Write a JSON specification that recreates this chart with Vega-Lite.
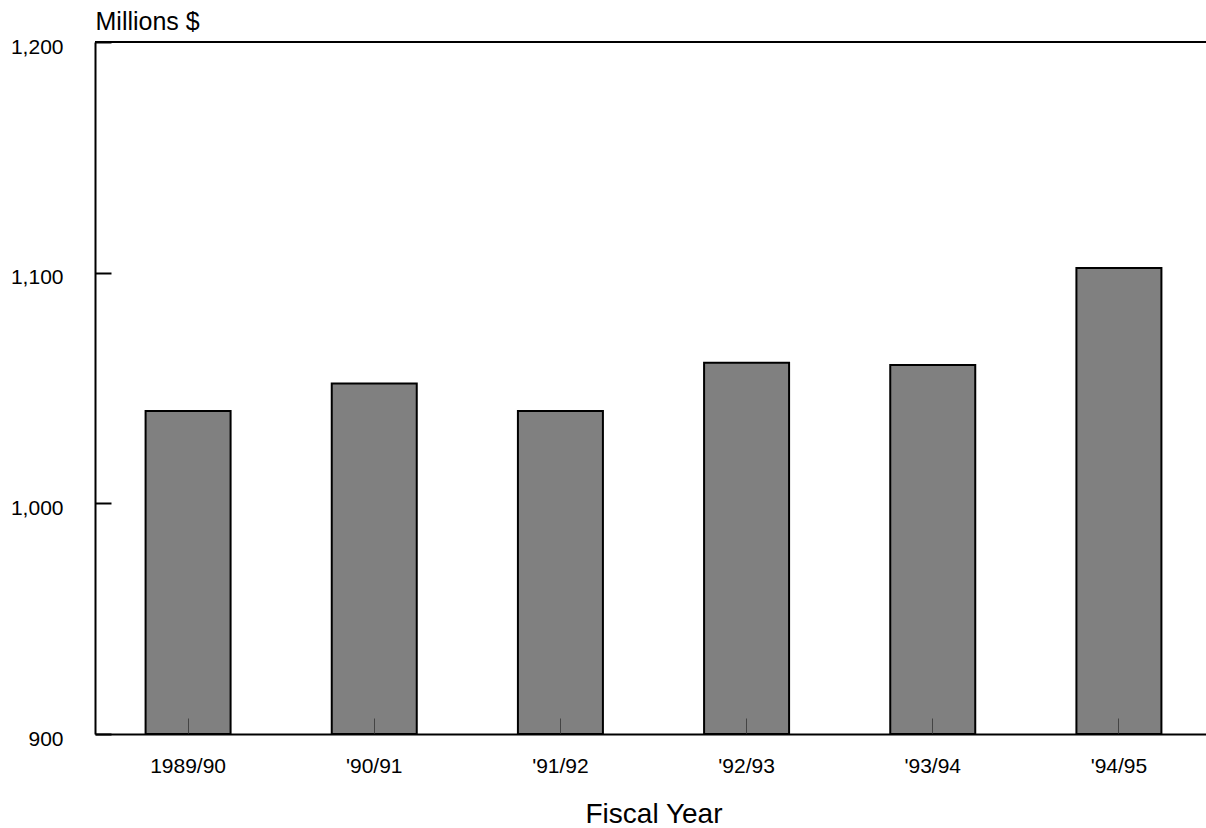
{
  "$schema": "https://vega.github.io/schema/vega-lite/v6.json",
  "width": 1111,
  "height": 692,
  "autosize": {"type": "none"},
  "padding": {"left": 95, "top": 42, "right": 0, "bottom": 94},
  "background": "white",
  "config": {
    "view": {"stroke": null},
    "font": "Liberation Sans",
    "axis": {"labelFont": "Liberation Sans", "titleFont": "Liberation Sans", "labelColor": "black", "titleColor": "black", "titleFontWeight": "normal", "labelFontSize": 21, "domainColor": "black", "domainWidth": 2, "grid": false},
    "axisX": {"titleFontSize": 28, "titlePadding": 24, "labelPadding": 37, "labelAngle": 0, "labelBaseline": "top", "tickSize": -16, "tickColor": "#444444", "tickWidth": 1},
    "axisY": {"titleFontSize": 25, "labelPadding": 48, "labelOffset": 5, "labelBaseline": "middle", "tickSize": -16, "tickColor": "black", "tickWidth": 2}
  },
  "data": {
    "values": [
      {"year": "1989/90", "value": 1040},
      {"year": "'90/91", "value": 1052},
      {"year": "'91/92", "value": 1040},
      {"year": "'92/93", "value": 1061},
      {"year": "'93/94", "value": 1060},
      {"year": "'94/95", "value": 1102}
    ]
  },
  "layer": [
    {
      "mark": {"type": "bar", "color": "#808080", "stroke": "black", "strokeWidth": 2, "width": 85},
      "encoding": {
        "x": {
          "field": "year", "type": "nominal", "sort": null,
          "scale": {"range": [0, 1117], "paddingInner": 0, "paddingOuter": 0},
          "axis": {"title": "Fiscal Year", "zindex": 2}
        },
        "y": {
          "field": "value", "type": "quantitative",
          "scale": {"domain": [900, 1200], "zero": false, "nice": false},
          "axis": {
            "title": "Millions $", "titleAngle": 0, "titleAlign": "left", "titleBaseline": "alphabetic",
            "titleX": 0, "titleY": -13, "zindex": 2,
            "values": [900, 1000, 1100, 1200], "format": ",d"
          }
        },
        "y2": {"datum": 900}
      }
    },
    {
      "mark": {"type": "rule", "color": "black", "strokeWidth": 2},
      "encoding": {"y": {"datum": 1200, "type": "quantitative"}}
    }
  ]
}
